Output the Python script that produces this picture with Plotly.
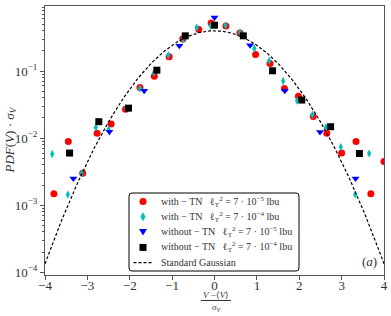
import numpy as np
import plotly.graph_objects as go

# --- data ---
red_x = [-3.79, -3.45, -3.11, -2.77, -2.44, -2.10, -1.76, -1.42, -1.07, -0.75, -0.37, -0.08,
         0.27, 0.60, 0.97, 1.31, 1.65, 1.98, 2.33, 2.65, 3.00, 3.34, 3.69, 4.00]
red_y = [0.00148, 0.0089, 0.0030, 0.0118, 0.0163, 0.027, 0.057, 0.084, 0.163, 0.30, 0.417, 0.52,
         0.47, 0.37, 0.177, 0.13, 0.055, 0.042, 0.021, 0.0118, 0.0060, 0.0089, 0.00148, 0.0045]

cyan_x = [-3.83, -3.46, -3.13, -2.80, -2.50, -2.09, -1.76, -1.43, -1.09, -0.75, -0.42, -0.09,
          0.26, 0.60, 0.94, 1.29, 1.62, 1.95, 2.31, 2.63, 2.98, 3.32, 3.65]
cyan_y = [0.0058, 0.00144, 0.0030, 0.0144, 0.0135, 0.028, 0.055, 0.094, 0.173, 0.295, 0.446, 0.47,
          0.48, 0.376, 0.217, 0.142, 0.071, 0.036, 0.0223, 0.0146, 0.0074, 0.00144, 0.0059]

blue_x = [-3.33, -2.48, -1.66, -0.83, 0.00, 0.84, 1.66, 2.49, 3.33]
blue_y = [0.0025, 0.0125, 0.051, 0.238, 0.63, 0.243, 0.051, 0.0123, 0.0025]

black_x = [-3.42, -2.73, -2.03, -1.36, -0.69, 0.00, 0.68, 1.37, 2.06, 2.74, 3.42]
black_y = [0.0060, 0.0176, 0.028, 0.103, 0.335, 0.483, 0.335, 0.101, 0.037, 0.0148, 0.0059]

series_names = [
    "with − TN   ℓ<sub>T</sub><sup>2</sup> = 7 · 10<sup>−5</sup> lbu",
    "with − TN   ℓ<sub>T</sub><sup>2</sup> = 7 · 10<sup>−4</sup> lbu",
    "without − TN   ℓ<sub>T</sub><sup>2</sup> = 7 · 10<sup>−5</sup> lbu",
    "without − TN   ℓ<sub>T</sub><sup>2</sup> = 7 · 10<sup>−4</sup> lbu",
    "Standard Gaussian",
]
series_colors = ["#ff0000", "#00bfbf", "#0000ff", "#000000"]

x_ticks = [-4, -3, -2, -1, 0, 1, 2, 3, 4]
y_tickvals = [1e-4, 1e-3, 1e-2, 1e-1]
y_ticktext = ["10<sup>−4</sup>", "10<sup>−3</sup>", "10<sup>−2</sup>", "10<sup>−1</sup>"]

# standard Gaussian reference curve
gx = np.linspace(-4, 4, 301)
gy = np.exp(-gx ** 2 / 2) / np.sqrt(2 * np.pi)

FONT = "Liberation Serif"
TXT = "#333333"

# figure geometry (pixels)
W, H = 391, 316
ML, MR, MT, MB = 45, 7, 6, 41
PW, PH = W - ML - MR, H - MT - MB


def PX(px):
    return (px - ML) / PW


def PY(py):
    return (H - MB - py) / PH


fig = go.Figure()
fig.add_trace(go.Scatter(x=red_x, y=red_y, mode="markers", name=series_names[0],
                         marker=dict(symbol="circle", size=7, color=series_colors[0])))
fig.add_trace(go.Scatter(x=cyan_x, y=cyan_y, mode="markers", name=series_names[1],
                         marker=dict(symbol="diamond-tall", size=6, color=series_colors[1])))
fig.add_trace(go.Scatter(x=blue_x, y=blue_y, mode="markers", name=series_names[2],
                         marker=dict(symbol="triangle-down", size=7, color=series_colors[2])))
fig.add_trace(go.Scatter(x=black_x, y=black_y, mode="markers", name=series_names[3],
                         marker=dict(symbol="square", size=7, color=series_colors[3])))
fig.add_trace(go.Scatter(x=gx, y=gy, mode="lines", name=series_names[4],
                         line=dict(color="black", width=1.2, dash="3px,2px")))

axis_common = dict(showline=True, linecolor="#555555", linewidth=1, mirror=True,
                   showgrid=False, zeroline=False, ticks="outside", ticklen=4,
                   tickcolor="#555555", automargin=False,
                   tickfont=dict(family=FONT, size=13, color=TXT))

fig.update_xaxes(range=[-4, 4], tickvals=x_ticks, ticklabelstandoff=-6, **axis_common)
fig.update_yaxes(type="log", range=[-4.04, -0.03], tickvals=y_tickvals, ticktext=y_ticktext,
                 minor=dict(ticks="outside", ticklen=2, dtick="D1", tickcolor="#555555", showgrid=False),
                 **axis_common)

# ---- hand-drawn legend (box, keys, labels) ----
shapes = []
annotations = []
bx0, bx1, by0, by1, rr = 129, 299, 193, 271, 3
box_path = (f"M{PX(bx0 + rr)},{PY(by0)} L{PX(bx1 - rr)},{PY(by0)} Q{PX(bx1)},{PY(by0)} {PX(bx1)},{PY(by0 + rr)} "
            f"L{PX(bx1)},{PY(by1 - rr)} Q{PX(bx1)},{PY(by1)} {PX(bx1 - rr)},{PY(by1)} "
            f"L{PX(bx0 + rr)},{PY(by1)} Q{PX(bx0)},{PY(by1)} {PX(bx0)},{PY(by1 - rr)} "
            f"L{PX(bx0)},{PY(by0 + rr)} Q{PX(bx0)},{PY(by0)} {PX(bx0 + rr)},{PY(by0)} Z")
shapes.append(dict(type="path", xref="paper", yref="paper", path=box_path,
                   fillcolor="rgba(255,255,255,0.85)", line=dict(color="black", width=1), layer="above"))

kx = 143
rows = [201.5, 216.8, 232.1, 247.4, 262.7]
# circle
shapes.append(dict(type="circle", xref="paper", yref="paper", x0=PX(kx - 3.5), x1=PX(kx + 3.5),
                   y0=PY(rows[0] + 3.5), y1=PY(rows[0] - 3.5), fillcolor=series_colors[0],
                   line=dict(width=0), layer="above"))
# diamond
cy = rows[1]
shapes.append(dict(type="path", xref="paper", yref="paper",
                   path=f"M{PX(kx)},{PY(cy - 4.5)} L{PX(kx + 2.6)},{PY(cy)} L{PX(kx)},{PY(cy + 4.5)} L{PX(kx - 2.6)},{PY(cy)} Z",
                   fillcolor=series_colors[1], line=dict(width=0), layer="above"))
# triangle down
cy = rows[2]
shapes.append(dict(type="path", xref="paper", yref="paper",
                   path=f"M{PX(kx - 4)},{PY(cy - 3)} L{PX(kx + 4)},{PY(cy - 3)} L{PX(kx)},{PY(cy + 3.5)} Z",
                   fillcolor=series_colors[2], line=dict(width=0), layer="above"))
# square
cy = rows[3]
shapes.append(dict(type="rect", xref="paper", yref="paper", x0=PX(kx - 3.5), x1=PX(kx + 3.5),
                   y0=PY(cy + 3.5), y1=PY(cy - 3.5), fillcolor=series_colors[3],
                   line=dict(width=0), layer="above"))
# dashed line
shapes.append(dict(type="line", xref="paper", yref="paper", x0=PX(133.5), x1=PX(152.5),
                   y0=PY(rows[4]), y1=PY(rows[4]), line=dict(color="black", width=1.2, dash="3px,2px"),
                   layer="above"))

for name, ry in zip(series_names, rows):
    annotations.append(dict(text=name, xref="paper", yref="paper", x=PX(159), y=PY(ry),
                            xanchor="left", yanchor="middle", showarrow=False,
                            font=dict(family=FONT, size=10, color=TXT)))

# axis titles and panel label
annotations += [
    dict(text="<i>PDF</i>(<i>V</i>) · <i>σ<sub>V</sub></i>", xref="paper", yref="paper",
         x=PX(10), y=0.5, xanchor="center", yanchor="middle", textangle=-90, showarrow=False,
         font=dict(family=FONT, size=13, color=TXT)),
    dict(text="<i>V</i> −⟨<i>V</i>⟩<br><i>σ<sub>V</sub></i>", xref="paper", yref="paper",
         x=PX(216), y=PY(301), xanchor="center", yanchor="middle", showarrow=False,
         font=dict(family=FONT, size=9, color=TXT)),
    dict(text="(<i>a</i>)", xref="paper", yref="paper", x=PX(369), y=PY(261),
         xanchor="center", yanchor="middle", showarrow=False, font=dict(family=FONT, size=13, color=TXT)),
]
shapes.append(dict(type="line", xref="paper", yref="paper", x0=PX(201), x1=PX(231),
                   y0=PY(300.5), y1=PY(300.5), line=dict(color=TXT, width=1)))

fig.update_layout(
    width=W, height=H,
    margin=dict(l=ML, r=MR, t=MT, b=MB, autoexpand=False),
    paper_bgcolor="white", plot_bgcolor="white",
    font=dict(family=FONT, size=11, color=TXT),
    showlegend=False,
    shapes=shapes,
    annotations=annotations,
)

fig.write_html("out.html", config={"displayModeBar": False},
               post_script="document.body.style.margin='0';document.body.style.padding='0';")
